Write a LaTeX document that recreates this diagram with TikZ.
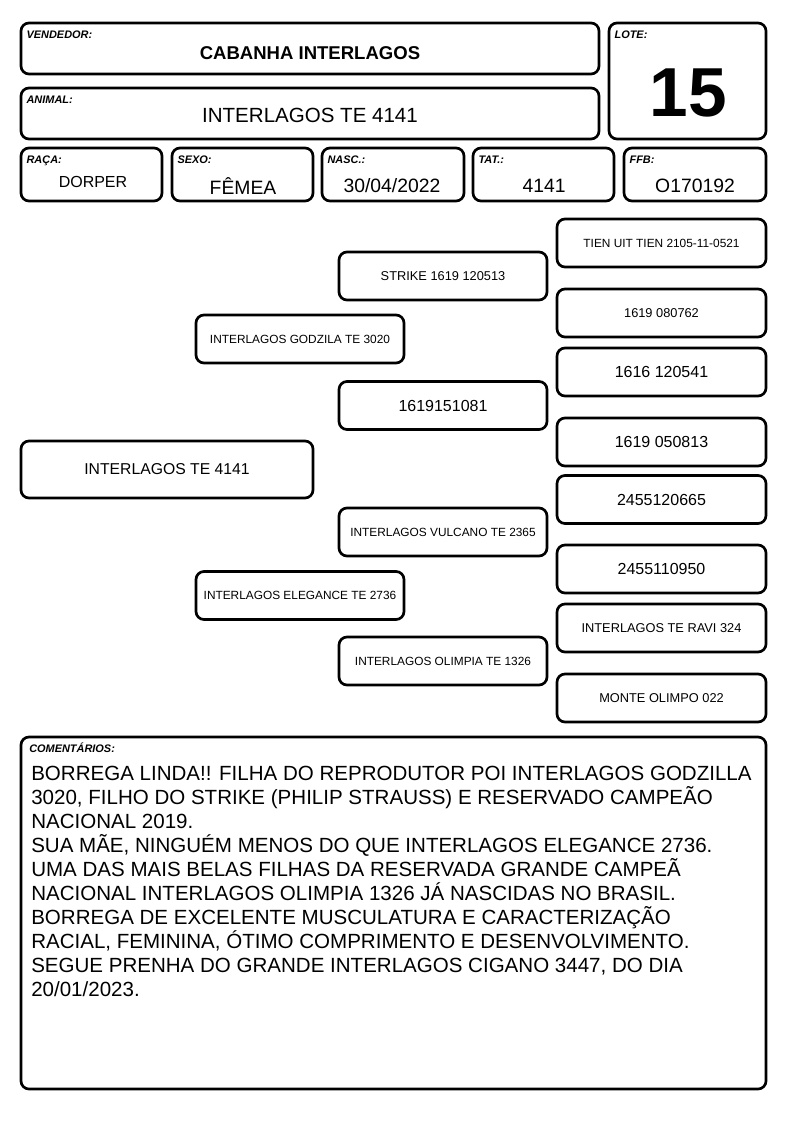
\documentclass[tikz,border=0pt]{standalone}
\usepackage{fontspec}
\setmainfont{Liberation Sans}
\usetikzlibrary{positioning}
\tikzset{
  cell/.style 2 args={rectangle, rounded corners=6pt, draw=black, line width=2pt,
                      minimum width=#1*0.75pt, minimum height=#2*0.75pt, inner sep=0pt, align=center},
  tag/.style={inner sep=0pt, font=\fontsize{8.2}{9}\selectfont\bfseries\itshape},
  val/.style={inner sep=0pt, font=\fontsize{14.5}{16}\selectfont},
  small/.style={font=\fontsize{8.9}{11}\selectfont},
  mid/.style={font=\fontsize{9.6}{11}\selectfont},
  big/.style={font=\fontsize{12}{14}\selectfont},
}

\begin{document}
\begin{tikzpicture}[x=0.75pt, y=-0.75pt]
        \useasboundingbox (0,0) rectangle (794,1123);

        % Header
        \node[cell={578}{51}] (vend) at (310,48.5) {};
        \node[cell={578}{51}] (anim) at (310,113.5) {};
        \node[cell={157}{116}] (lote) at (687.5,81) {};
        \node[tag, below right=6.5pt and 5pt of vend.north west] (vendtag) {VENDEDOR:};
        \node[tag, below right=6.5pt and 5pt of anim.north west] (animtag) {ANIMAL:};
        \node[tag, below right=6.5pt and 5pt of lote.north west] (lotetag) {LOTE:};
        \node[val, font=\fontsize{13.9}{16}\selectfont\bfseries] (vendval) at (310,53) {CABANHA INTERLAGOS};
        \node[val, font=\fontsize{15.4}{17}\selectfont] (animval) at (310,115) {INTERLAGOS TE 4141};
        \node[val, font=\fontsize{52}{56}\selectfont\bfseries] (loteval) at (688,93) {15};

        % Data row
        \node[cell={141}{53}] (raca) at (91.5,174.5) {};
        \node[cell={141}{53}] (sexo) at (242.5,174.5) {};
        \node[cell={142}{53}] (nasc) at (393,174.5) {};
        \node[cell={141}{53}] (tat) at (543.5,174.5) {};
        \node[cell={142}{53}] (ffb) at (695,174.5) {};
        \foreach \cellname/\txt in {raca/RAÇA:, sexo/SEXO:, nasc/NASC.:, tat/TAT.:, ffb/FFB:}
          \node[tag, below right=6.5pt and 5pt of \cellname.north west] (\cellname tag) {\txt};
        \node[val, font=\fontsize{12}{14}\selectfont] (racaval) at (93,182) {DORPER};
        \node[val] (sexoval) at (243,186) {FÊMEA};
        \node[val] (nascval) at (392,186) {30/04/2022};
        \node[val] (tatval) at (544,186) {4141};
        \node[val] (ffbval) at (695,186) {O170192};

        % Pedigree
        \node[cell={292}{57}, font=\fontsize{11.8}{14}\selectfont] (a0) at (167,469.5) {INTERLAGOS TE 4141};
        \node[cell={208}{48}, small] (sire) at (300,339) {INTERLAGOS GODZILA TE 3020};
        \node[cell={208}{48}, small] (dam) at (300,595.5) {INTERLAGOS ELEGANCE TE 2736};
        \node[cell={208}{48}, mid] (ss) at (443,276) {STRIKE 1619 120513};
        \node[cell={208}{48}, big] (sd) at (443,405.5) {1619151081};
        \node[cell={208}{48}, small] (ds) at (443,532) {INTERLAGOS VULCANO TE 2365};
        \node[cell={208}{48}, small] (dd) at (443,661) {INTERLAGOS OLIMPIA TE 1326};
        \node[cell={209}{48}, small] (sss) at (661.5,243) {TIEN UIT TIEN 2105-11-0521};
        \node[cell={209}{48}, mid] (ssd) at (661.5,313) {1619 080762};
        \node[cell={209}{48}, big] (sds) at (661.5,372) {1616 120541};
        \node[cell={209}{48}, big] (sdd) at (661.5,442) {1619 050813};
        \node[cell={209}{48}, big] (dss) at (661.5,499.5) {2455120665};
        \node[cell={209}{48}, big] (dsd) at (661.5,569) {2455110950};
        \node[cell={209}{48}, mid] (dds) at (661.5,628) {INTERLAGOS TE RAVI 324};
        \node[cell={209}{48}, mid] (ddd) at (661.5,698) {MONTE OLIMPO 022};

        % Comments
        \node[cell={745}{352}] (coment) at (393.5,913) {};
        \node[tag, below right=5pt and 7pt of coment.north west] (comenttag) {COMENTÁRIOS:};
        \node[inner sep=0pt, anchor=north west, align=left, font=\fontsize{15.4}{18}\selectfont] (comenttxt) at (31,766)
          {BORREGA LINDA!! FILHA DO REPRODUTOR POI INTERLAGOS GODZILLA\\
           3020, FILHO DO STRIKE (PHILIP STRAUSS) E RESERVADO CAMPEÃO\\
           NACIONAL 2019.\\
           SUA MÃE, NINGUÉM MENOS DO QUE INTERLAGOS ELEGANCE 2736.\\
           UMA DAS MAIS BELAS FILHAS DA RESERVADA GRANDE CAMPEÃ\\
           NACIONAL INTERLAGOS OLIMPIA 1326 JÁ NASCIDAS NO BRASIL.\\
           BORREGA DE EXCELENTE MUSCULATURA E CARACTERIZAÇÃO\\
           RACIAL, FEMININA, ÓTIMO COMPRIMENTO E DESENVOLVIMENTO.\\
           SEGUE PRENHA DO GRANDE INTERLAGOS CIGANO 3447, DO DIA\\
           20/01/2023.};
      \end{tikzpicture}
\end{document}
